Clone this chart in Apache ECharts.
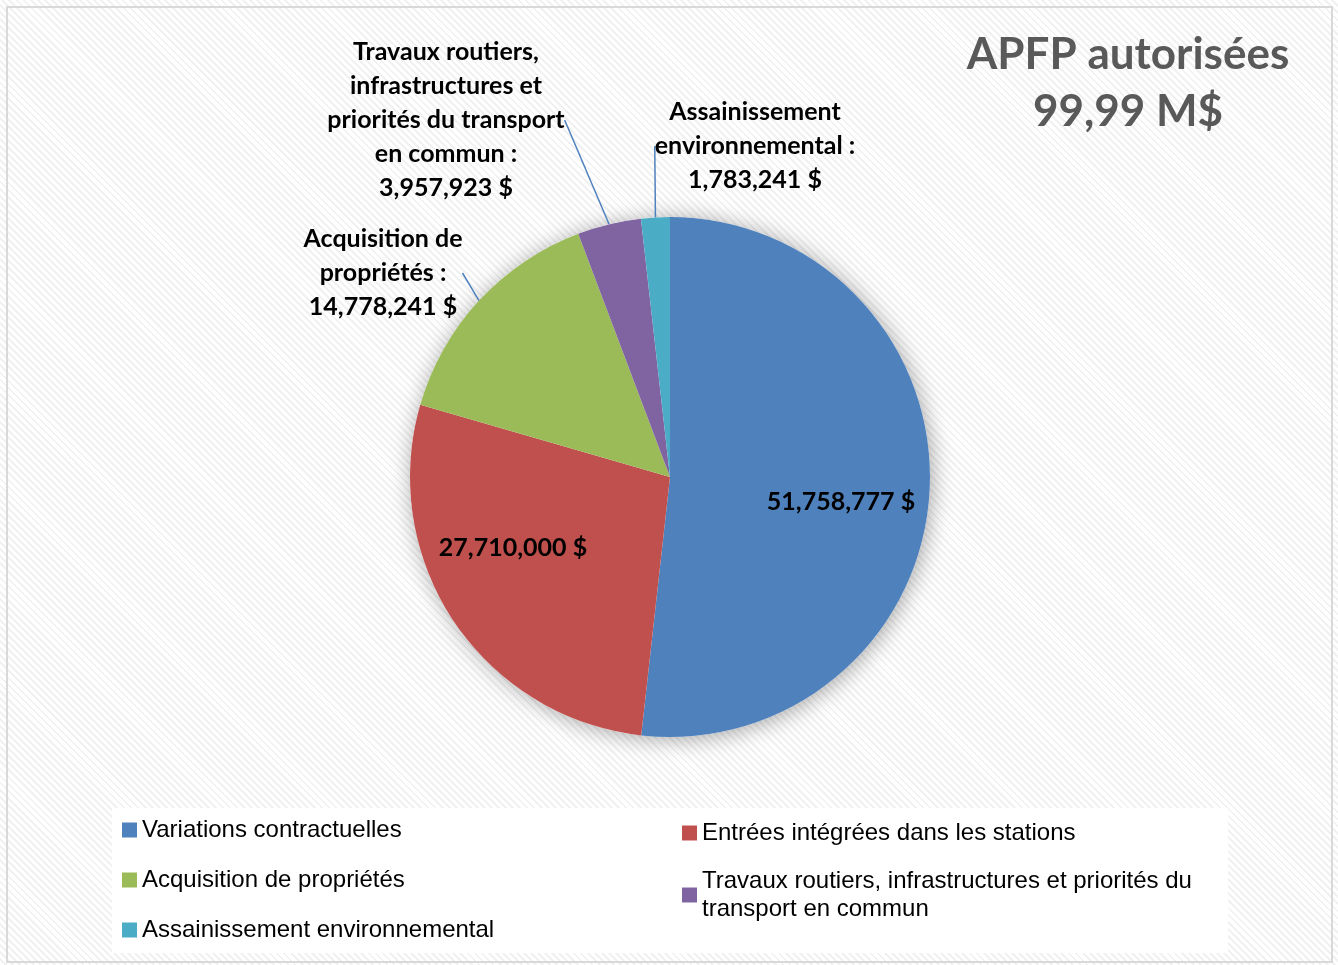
<!DOCTYPE html>
<html>
<head>
<meta charset="utf-8">
<script src="https://cdn.jsdelivr.net/npm/echarts@6/dist/echarts.min.js"></script>
<style>
html,body{margin:0;padding:0;}
#chart{width:1338px;height:965px;background:repeating-linear-gradient(45deg,#ffffff 0px,#ffffff 3px,#f1f1f1 3px,#f1f1f1 5px);}
</style>
</head>
<body>
<div id="chart"></div>
<script>
// ---- data ----
var categories = [
  'Variations contractuelles',
  'Entrées intégrées dans les stations',
  'Acquisition de propriétés',
  'Travaux routiers, infrastructures et priorités du transport en commun',
  'Assainissement environnemental'
];
var values = [51758777, 27710000, 14778241, 3957923, 1783241];
var labelNames = [
  '',
  '',
  'Acquisition de\npropriétés :',
  'Travaux routiers,\ninfrastructures et\npriorités du transport\nen commun :',
  'Assainissement\nenvironnemental :'
];
var titleLines = ['APFP autorisées', '99,99 M$'];

// ---- style / layout ----
var colors = ['#4F81BD', '#C0504D', '#9BBB59', '#8064A2', '#4BACC6'];
var labelPos = [
  {x: 841, y: 502},
  {x: 513, y: 548},
  {x: 383, y: 273},
  {x: 446, y: 120},
  {x: 755, y: 146}
];
var insideIdx = [0, 1];

function fmt(v) { return v.toLocaleString('en-US') + ' $'; }
var total = values.reduce(function (a, b) { return a + b; }, 0);

var pieData = categories.map(function (c, i) {
  var inside = insideIdx.indexOf(i) >= 0;
  return {
    name: c,
    value: values[i],
    itemStyle: {color: colors[i]},
    label: {
      position: inside ? 'inside' : 'outside',
      formatter: inside ? fmt(values[i]) : labelNames[i] + '\n' + fmt(values[i])
    },
    labelLine: {show: !inside}
  };
});

var chart = echarts.init(document.getElementById('chart'), null, {renderer: 'canvas'});
var font = 'Lato, "Open Sans", sans-serif';
var legendText = {fontSize: 24, fontFamily: '"Liberation Sans", Arial, sans-serif', color: '#000', lineHeight: 28};
chart.setOption({
  animation: false,
  title: {
    text: titleLines.join('\n'),
    left: 1123,
    top: 21,
    textAlign: 'center',
    textStyle: {fontSize: 44, fontWeight: 'bold', color: '#595959', fontFamily: font, lineHeight: 57}
  },
  graphic: [
    {type: 'rect', shape: {x: 7, y: 7, width: 1325, height: 955}, style: {fill: 'none', stroke: '#d9d9d9', lineWidth: 2}, z: 0},
    {type: 'rect', shape: {x: 112, y: 808, width: 1116, height: 145}, style: {fill: '#ffffff'}, z: 0}
  ],
  legend: [
    {data: [categories[0], categories[2], categories[4]], orient: 'vertical', left: 117, top: 811, itemGap: 22,
     itemWidth: 15, itemHeight: 15, icon: 'rect', textStyle: legendText, selectedMode: false},
    {data: [categories[1]], orient: 'vertical', left: 677, top: 814,
     itemWidth: 15, itemHeight: 15, icon: 'rect', textStyle: legendText, selectedMode: false},
    {data: [categories[3]], orient: 'vertical', left: 677, top: 862,
     itemWidth: 15, itemHeight: 15, icon: 'rect', textStyle: legendText, selectedMode: false,
     formatter: function () { return 'Travaux routiers, infrastructures et priorités du\ntransport en commun'; }}
  ],
  series: [
    {
      type: 'pie', silent: true, z: 1,
      center: [670, 477], radius: 260,
      label: {show: false}, labelLine: {show: false},
      itemStyle: {color: '#ffffff', shadowBlur: 22, shadowColor: 'rgba(0,0,0,0.35)', shadowOffsetX: 2, shadowOffsetY: 2},
      data: [{value: total, name: ''}]
    },
    {
      type: 'pie', z: 2,
      center: [670, 477], radius: 260,
      startAngle: 90, clockwise: true,
      itemStyle: {borderWidth: 0},
      label: {
        show: true, fontFamily: font, fontWeight: 'bold', fontSize: 25, color: '#000', lineHeight: 34, align: 'center'
      },
      labelLine: {lineStyle: {color: '#4F81BD', width: 1.5}, length: 10, length2: 0, smooth: false},
      labelLayout: function (p) {
        var lp = labelPos[p.dataIndex];
        return {x: lp.x, y: lp.y, align: 'center', verticalAlign: 'middle'};
      },
      data: pieData
    }
  ]
});
</script>
</body>
</html>
